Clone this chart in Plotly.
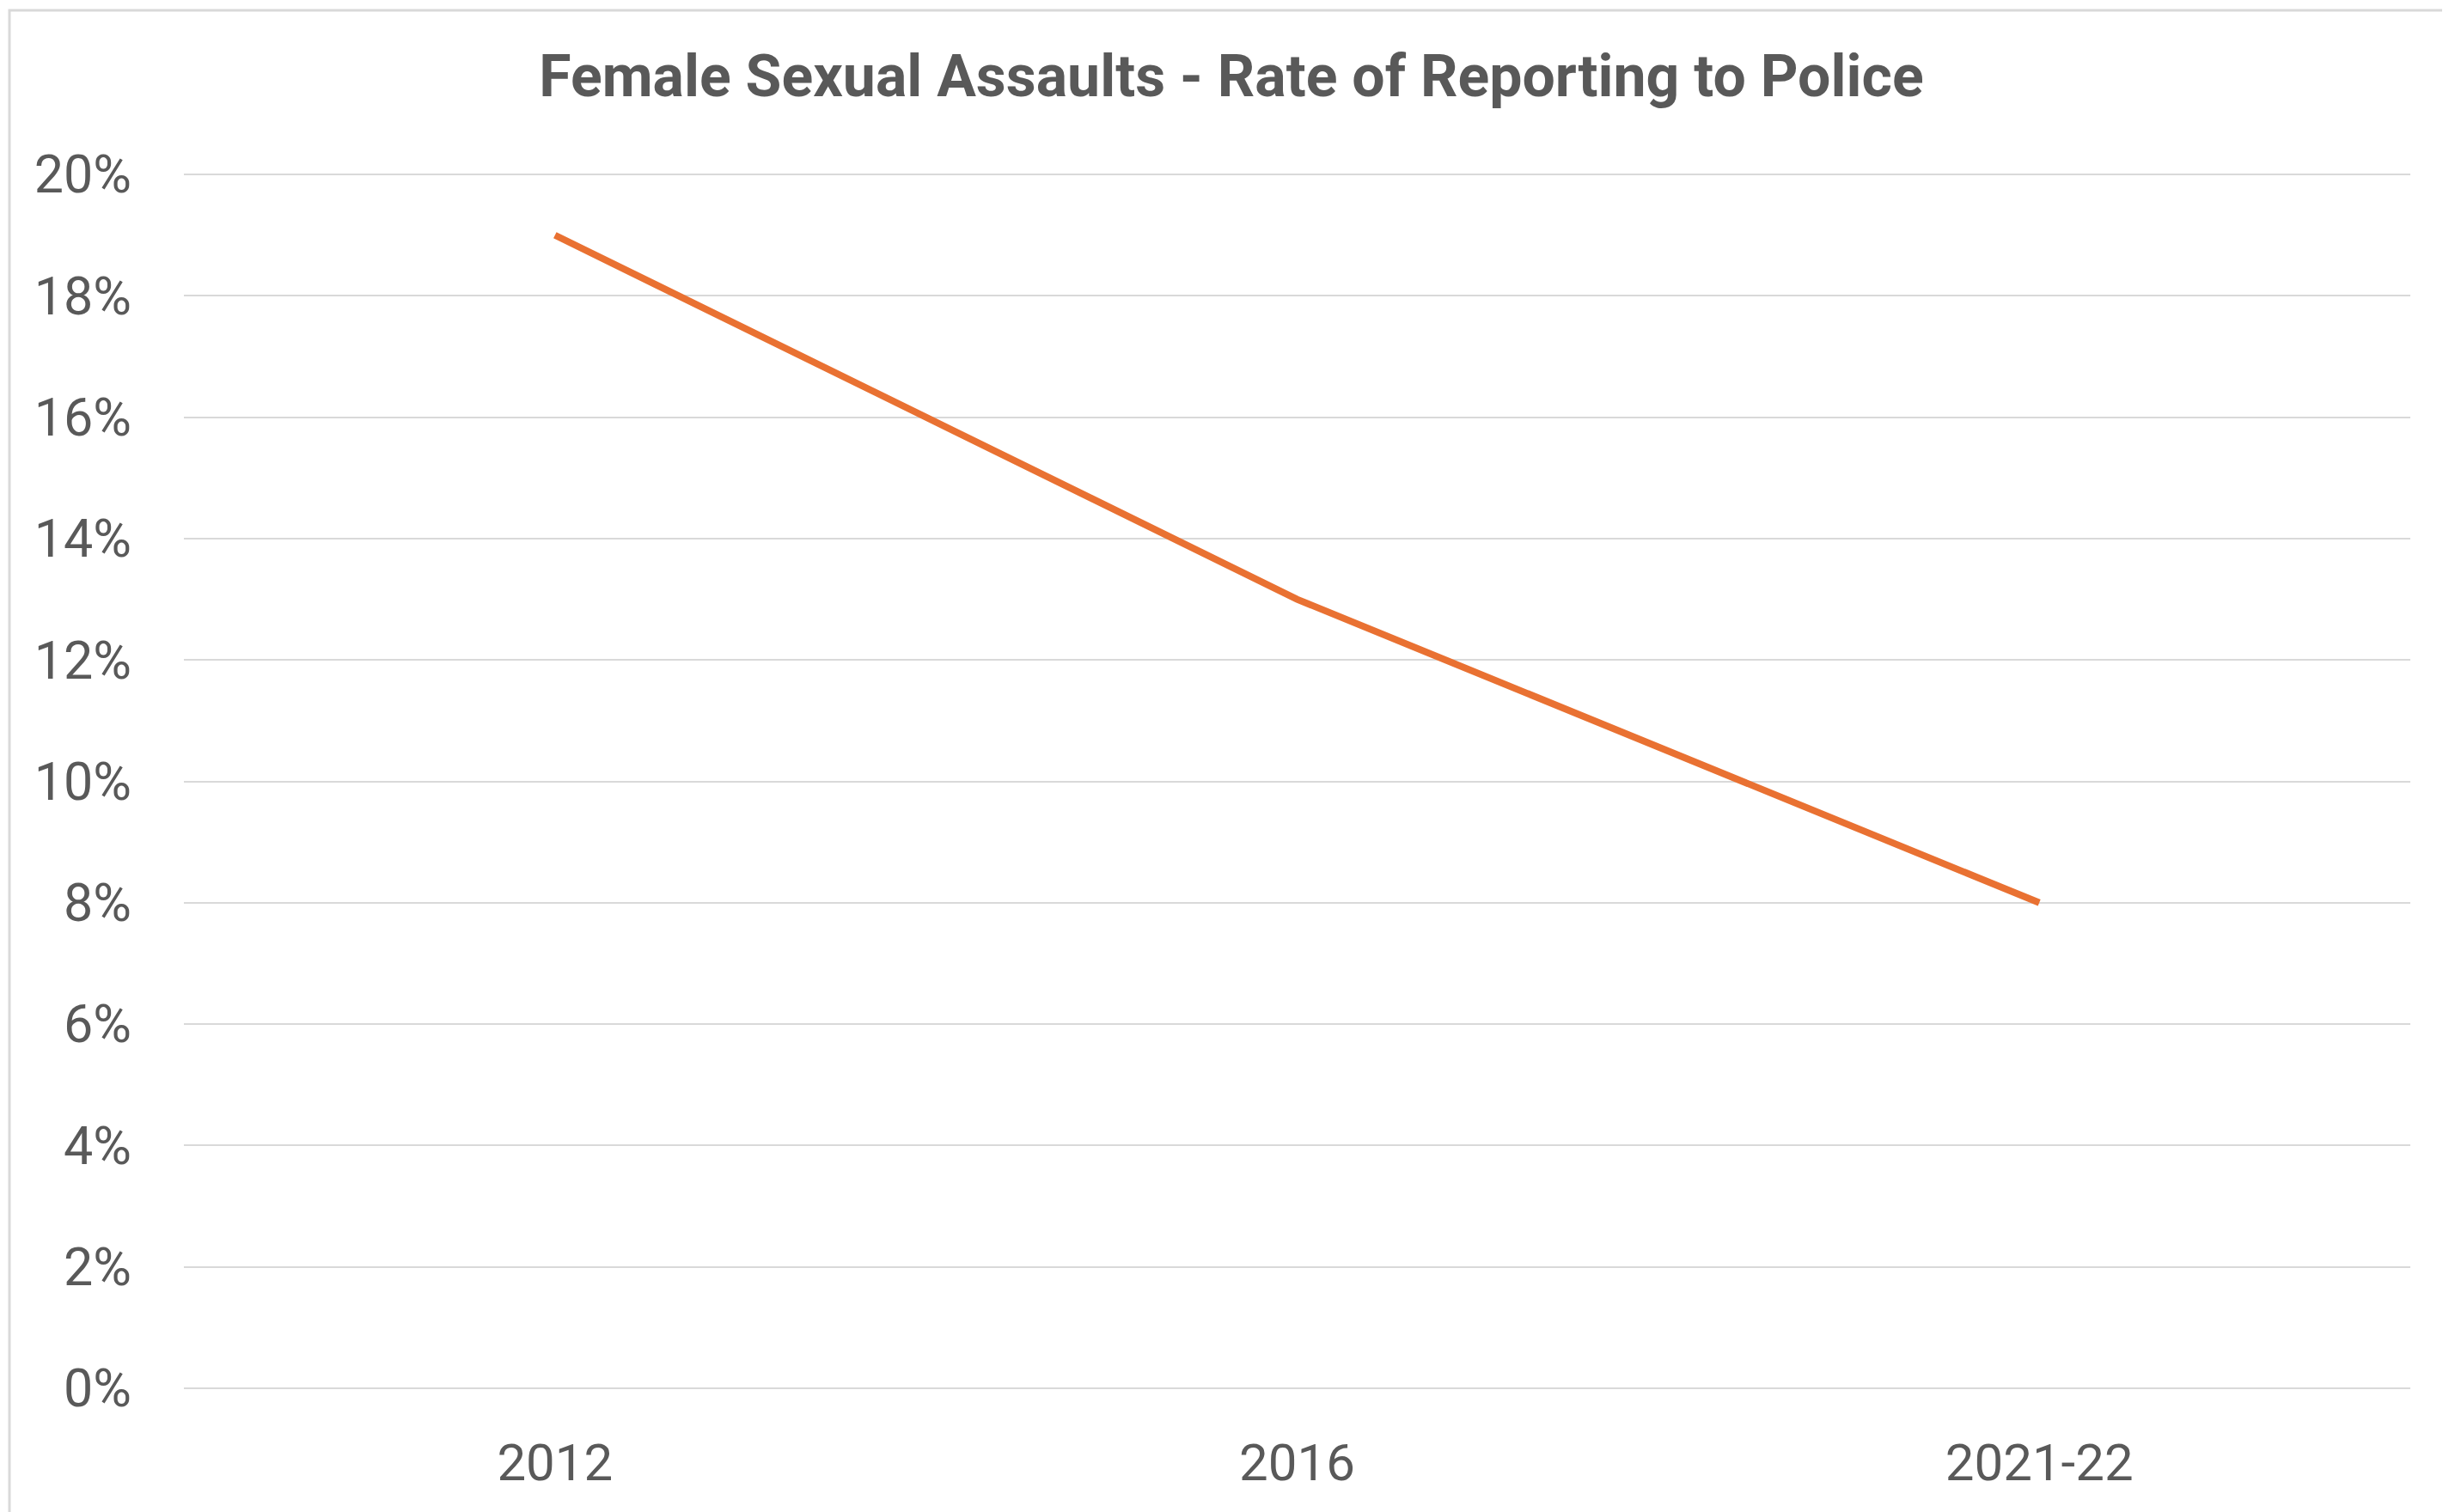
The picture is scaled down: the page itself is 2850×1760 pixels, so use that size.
import plotly.graph_objects as go

categories = ["2012", "2016", "2021-22"]
rates = [0.19, 0.13, 0.08]
y_ticks = [0, 0.02, 0.04, 0.06, 0.08, 0.10, 0.12, 0.14, 0.16, 0.18, 0.20]
y_tick_labels = ["0%", "2%", "4%", "6%", "8%", "10%", "12%", "14%", "16%", "18%", "20%"]
title_text = "Female Sexual Assaults - Rate of Reporting to Police"

W, H = 2850, 1760
PAD = 0.0003  # small range padding so the 0% and 20% gridlines are drawn
L, R, T, B = 206, 53, 193, 150
pw, ph = W - L - R, H - T - B

TEXT = "#595959"
GRID = "#D9D9D9"
FONT = "Roboto"

fig = go.Figure()
fig.add_trace(go.Scatter(
    x=categories, y=rates, mode="lines",
    line=dict(color="#E97132", width=8, shape="linear"),
    hoverinfo="skip", showlegend=False,
))

def px_x(p):
    return (p - L) / pw

def px_y(p):
    return (H - B - p) / ph

fig.update_layout(
    width=W, height=H,
    margin=dict(l=L, r=R, t=T, b=B),
    paper_bgcolor="white", plot_bgcolor="white",
    title=dict(text="<b>" + title_text + "</b>", x=0.5, xref="container", xanchor="center",
               y=1 - 80 / H, yref="container", yanchor="middle",
               font=dict(family=FONT, size=68, color=TEXT)),
    xaxis=dict(
        type="category", range=[-0.5, 2.5], showgrid=False, zeroline=False,
        showline=False, ticks="", tickfont=dict(family=FONT, size=60, color=TEXT),
        ticklabelstandoff=44,
    ),
    yaxis=dict(
        range=[-PAD, 0.2 + PAD], tickvals=y_ticks, ticktext=y_tick_labels,
        showgrid=True, gridcolor=GRID, gridwidth=2, zeroline=False, showline=False,
        ticks="", tickfont=dict(family=FONT, size=61, color=TEXT),
        ticklabelstandoff=60,
    ),
    shapes=[dict(
        type="rect", xref="paper", yref="paper",
        x0=px_x(3), x1=px_x(2847), y0=px_y(1755), y1=px_y(4),
        line=dict(color=GRID, width=3), fillcolor="rgba(0,0,0,0)", layer="below",
    )],
)

fig.write_html("out.html")
